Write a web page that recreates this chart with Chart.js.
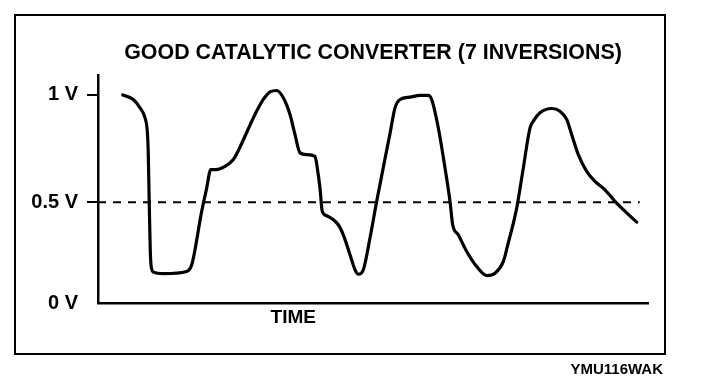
<!DOCTYPE html>
<html><head><meta charset="utf-8">
<script src="https://cdn.jsdelivr.net/npm/chart.js@4"></script>
<style>
html,body{margin:0;padding:0;background:#fff;}
#wrap{position:relative;width:704px;height:392px;overflow:hidden;}
canvas{position:absolute;left:0;top:0;}
#frame{position:absolute;left:14px;top:14px;width:652px;height:341px;box-sizing:border-box;border:2px solid #000;pointer-events:none;}
#code{position:absolute;right:41px;top:360px;line-height:17px;font:bold 15px 'Liberation Sans',Arial,sans-serif;color:#000;}
</style></head><body>
<div id="wrap">
<canvas id="c" width="704" height="392"></canvas>
<div id="frame"></div>
<div id="code">YMU116WAK</div>
</div>
<script>
const titleText = "GOOD CATALYTIC CONVERTER (7 INVERSIONS)";
// sensor trace: time (arbitrary 0-100) and voltage (V)
const timeValues = [4.5,6.42,7.64,8.55,8.96,9.13,9.31,9.51,9.67,10.09,11.87,16.13,17.04,18.85,19.76,20.49,21.45,23.09,24.6,25.82,28.24,30.05,31.27,32.49,33.69,34.91,35.82,36.73,37.95,39.45,39.87,40.36,40.78,41.58,43.69,44.6,45.82,46.73,47.33,48.24,49.45,50.67,53.09,54,54.91,56.73,58.55,60.05,60.67,61.87,63.09,64,64.49,65.51,67.04,68.85,70.67,72.18,73.69,74.6,75.45,76.13,77.33,78.55,79.15,80.36,82.49,84,85.22,86.13,87.33,88.85,90.36,92.18,94,96.13,97.95];
const voltageValues = [1.0,0.979,0.94,0.893,0.831,0.737,0.504,0.27,0.2,0.174,0.167,0.177,0.208,0.457,0.566,0.652,0.652,0.667,0.699,0.757,0.893,0.979,1.015,1.021,0.987,0.909,0.815,0.73,0.722,0.714,0.66,0.566,0.457,0.437,0.395,0.348,0.255,0.185,0.164,0.185,0.333,0.504,0.82,0.94,0.979,0.99,0.998,0.998,0.979,0.847,0.66,0.504,0.395,0.348,0.27,0.2,0.158,0.169,0.223,0.311,0.395,0.473,0.66,0.847,0.878,0.917,0.937,0.924,0.886,0.815,0.722,0.644,0.597,0.558,0.504,0.45,0.407];
// 0.5 V reference line
const thresholdTimes = [0, 98.5];
const thresholdVolts = [0.5, 0.5];
// axes
const yTickValues = [0.03, 0.5, 1];
const yTickLabels = ["0 V", "0.5 V", "1 V"];
const xTickValues = [35.5];
const xTickLabels = ["TIME"];
const yMin = 0.03, yMax = 1.09, xMin = 0, xMax = 100;

const FONT = "'Liberation Sans', Arial, Helvetica, sans-serif";
Chart.defaults.font.family = FONT;
Chart.defaults.color = '#000';

const tracePts = timeValues.map((t, i) => ({x: t, y: voltageValues[i]}));
const refPts = thresholdTimes.map((t, i) => ({x: t, y: thresholdVolts[i]}));

new Chart(document.getElementById('c'), {
  type: 'line',
  data: {
    datasets: [
      {data: refPts, borderColor: '#000', borderWidth: 2, borderDash: [8, 7], pointRadius: 0, tension: 0},
      {data: tracePts, borderColor: '#000', borderWidth: 3.2, pointRadius: 0, cubicInterpolationMode: 'monotone', borderCapStyle: 'round', borderJoinStyle: 'round'}
    ]
  },
  options: {
    responsive: false,
    animation: false,
    events: [],
    layout: {padding: {left: 0, right: 56, top: 0, bottom: 0}},
    plugins: {
      legend: {display: false},
      tooltip: {enabled: false},
      title: {
        display: true, text: titleText, fullSize: false, color: '#000',
        font: {size: 21.4, weight: 'bold', lineHeight: 1.2},
        padding: {top: 40, bottom: 10}
      }
    },
    scales: {
      x: {
        type: 'linear', min: xMin, max: xMax,
        afterFit: s => { s.height = 89; },
        afterBuildTicks: s => { s.ticks = xTickValues.map(v => ({value: v})); },
        ticks: {callback: (v, i) => xTickLabels[i], font: {size: 19, weight: 'bold', lineHeight: 1.2}, padding: 3, maxRotation: 0, autoSkip: false, color: '#000'},
        grid: {display: true, drawOnChartArea: false, drawTicks: false},
        border: {display: true, color: '#000', width: 2.5}
      },
      y: {
        min: yMin, max: yMax,
        afterFit: s => { s.width = 98; },
        afterBuildTicks: s => { s.ticks = yTickValues.map(v => ({value: v})); },
        ticks: {callback: (v, i) => yTickLabels[i], font: {size: 20, weight: 'bold'}, padding: 9, autoSkip: false, color: '#000'},
        grid: {display: true, drawOnChartArea: false, drawTicks: true, tickLength: 11, lineWidth: 2,
               tickColor: ctx => ctx.index === 0 ? 'rgba(0,0,0,0)' : '#000'},
        border: {display: true, color: '#000', width: 2.5}
      }
    }
  }
});
</script>
</body></html>
